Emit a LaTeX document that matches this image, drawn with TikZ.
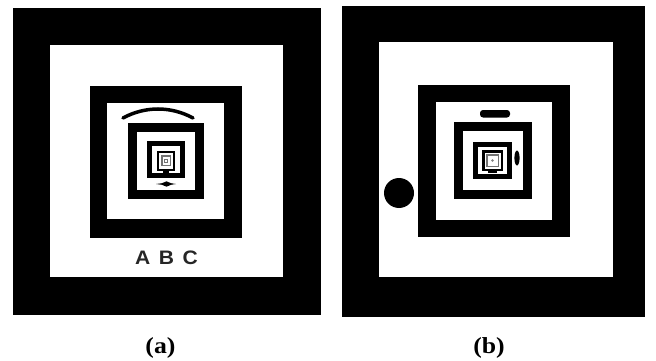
\documentclass[tikz,border=0pt]{standalone}
\usepackage{fontspec}
\setmainfont{Liberation Serif}
\newfontfamily\abcfont{Liberation Sans}
\begin{document}
\begin{tikzpicture}[x=1pt,y=-1pt,
  blk/.style={fill=black},
  wht/.style={fill=white},
  gry/.style={fill=black!55},
  lbl/.style={font=\bfseries\fontsize{23}{26}\selectfont, inner sep=0pt, xscale=1.12}]
\useasboundingbox[fill=white] (0,0) rectangle (656,361);
% ---------- panel (a) ----------
\fill[blk] (13,8) rectangle (321,315);
\fill[wht] (50,45) rectangle (283,277);
\fill[blk] (90,86) rectangle (242,238);
\fill[wht] (107,103) rectangle (224,219);
\fill[blk] (128,123) rectangle (204,199);
\fill[wht] (137,132) rectangle (195,190);
\fill[blk] (147,141) rectangle (185,178);
\fill[wht] (152,146) rectangle (180,173);
\fill[blk] (157,151) rectangle (175,171);
\fill[wht] (159,153) rectangle (173,169);
\fill[gry] (161,155) rectangle (171,166);
\fill[wht] (162.5,156.5) rectangle (169.5,164.5);
\fill[gry] (164,158.5) rectangle (168,162.5);
\fill[wht] (165,159.5) rectangle (167,161.5);
\fill[blk] (163,171) rectangle (169,174);
% arc above level 3
\draw[line width=3.5pt, line cap=round] (123,118) .. controls (145,106) and (171,106) .. (193,118);
% arrow below level 4
\fill[blk] (156,184) -- (162,183.2) -- (166.5,181.3) -- (171,183.2) -- (176,184)
  -- (171,184.8) -- (166.5,186.7) -- (162,184.8) -- cycle;
\node[font=\abcfont\bfseries\fontsize{19.5}{22}\selectfont, text=black!85, inner sep=0pt, xscale=1.08]
  (abc) at (166.5,258) {A\hspace{8pt}B\hspace{8pt}C};
\node[lbl] (la) at (160.5,348) {(a)};
% ---------- panel (b) ----------
\fill[blk] (342,6) rectangle (645,317);
\fill[wht] (379,42) rectangle (613,277);
\fill[blk] (418,85) rectangle (570,237);
\fill[wht] (436,102) rectangle (552,220);
\fill[blk] (454,122) rectangle (532,199);
\fill[wht] (463,131) rectangle (523,190);
\fill[blk] (473,142) rectangle (512,179);
\fill[wht] (478,147) rectangle (507,174);
\fill[blk] (482,150) rectangle (503,171);
\fill[wht] (484.5,152.5) rectangle (500.5,168.5);
\fill[gry] (486,154) rectangle (499,167);
\fill[wht] (487.5,155.5) rectangle (497.5,165.5);
\fill[black!50] (492.5,160.5) circle (1.3);
\fill[blk] (488,170) rectangle (497,173);
% decorations
\fill[blk, rounded corners=3pt] (480,110) rectangle (510,117.5);
\fill[blk] (517,158) ellipse [x radius=2.6, y radius=7.5];
\fill[blk] (399,193) circle (15);
\node[lbl] (lb) at (489,348) {(b)};
\end{tikzpicture}
\end{document}
